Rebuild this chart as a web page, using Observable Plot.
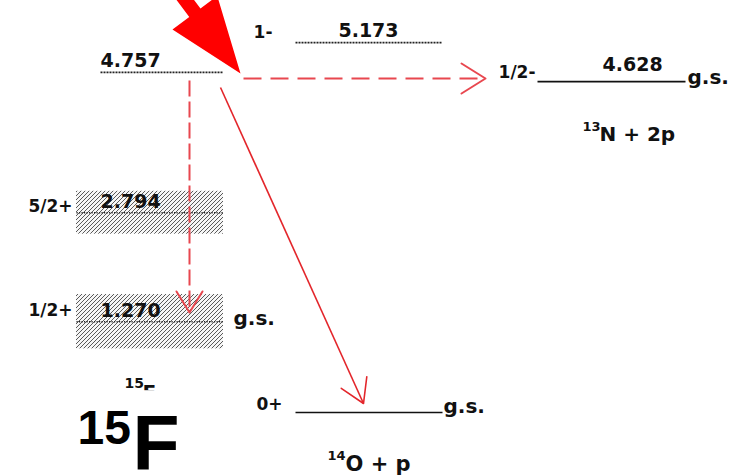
<!DOCTYPE html>
<html><head><meta charset="utf-8">
<script src="https://cdn.jsdelivr.net/npm/d3@7"></script>
<script src="https://cdn.jsdelivr.net/npm/@observablehq/plot@0.6"></script>
<style>html,body{margin:0;padding:0;background:#fff} #chart svg{display:block}</style>
</head><body><div id="chart"></div>
<script>
// ---------------- data ----------------
const levelEnergies   = [4.757, 5.173, 4.628, 2.794, 1.270, 0];      // MeV above 14O + p
const levelValueLabels = ["4.757", "5.173", "4.628", "2.794", "1.270", ""];
const levelSpins      = ["", "1-", "1/2-", "5/2+", "1/2+", "0+"];
const levelSystems    = ["15F", "14O + p", "13N + 2p", "15F", "15F", "14O + p"];
const levelKinds      = ["wavy", "wavy", "solid", "dotted", "dotted", "solid"];
const levelHalfWidths = [0, 0, 0, 0.30, 0.38, 0];                    // resonance half-widths (MeV)
const groundState     = [false, false, true, false, true, true];
const systemMass      = ["13", "14"];
const systemRest      = ["N + 2p", "O + p"];
const systemEnergy    = [4.628, 0];
const nucleusMass     = "15";
const nucleusSymbol   = "F";
const decayNames      = ["4.757 -> 13N + 2p", "4.757 -> 15F g.s.", "4.757 -> 14O + p"];

// ---------------- layout (pixels / pixel offsets) ----------------
const lineX1 = [100, 295, 537, 76, 76, 295];
const lineX2 = [223, 442, 685, 223, 223, 442];
const valueX = [100, 368, 602, 100, 100, null];
const valueAnchor = ["start", "middle", "start", "start", "start", "start"];
const valueDy = [-5, -6, -11, -5, -5, 0];
const spinX = [null, 272, 535, 72, 72, 282];
const spinDy = [0, -5, -4, -1, -6, -3];
const gsX = [null, null, 687, null, 233, 443];
const gsDy = [0, 0, 2, 0, 3, 0];
const sysMassX = [582, 327], sysRestX = [599, 345];
const sysMassDy = [49, 47], sysRestDy = [59, 58];
const sysRestSize = [20, 21];

const levels = levelEnergies.map((E, i) => ({
  i, E, value: levelValueLabels[i], spin: levelSpins[i], sys: levelSystems[i],
  kind: levelKinds[i], hw: levelHalfWidths[i], gs: groundState[i]
}));
const systems = systemEnergy.map((E, i) => ({i, E, mass: systemMass[i], rest: systemRest[i]}));

const decays = [
  {name: decayNames[0], x1: 243, y1: 4.671, x2: 485, y2: 4.671, dash: "18,9", color: "#e8474f", w: 2, rot: 90, l: 24, a: 15},
  {name: decayNames[1], x1: 189, y1: 4.643, x2: 189, y2: 1.399, dash: "16,5", color: "#e8474f", w: 2, rot: 180, l: 21, a: 13},
  {name: decayNames[2], x1: 220, y1: 4.545, x2: 363, y2: 0.126, dash: null, color: "#e3262b", w: 1.6, rot: 155.7, l: 23, a: 14}
];

const openHead = (a) => ({
  draw(ctx, l) { ctx.moveTo(-a, 0); ctx.lineTo(0, -l); ctx.lineTo(a, 0); }
});
const bigArrow = {
  draw(ctx, l) {
    const hl = 76, hw = 28, sw = 7;
    ctx.moveTo(-sw, 0); ctx.lineTo(-sw, -(l - hl)); ctx.lineTo(-hw, -(l - hl));
    ctx.lineTo(0, -l); ctx.lineTo(hw, -(l - hl)); ctx.lineTo(sw, -(l - hl));
    ctx.lineTo(sw, 0); ctx.closePath();
  }
};

const F = "DejaVu Sans";
const T = (data, o) => Plot.text(data, {fontFamily: F, fontWeight: "bold", fill: "#111", lineAnchor: "bottom", ...o});
const lv = (k) => levels.filter(d => d.kind === k);

const marks = [
  // hatched resonance widths
  Plot.rect(levels.filter(d => d.hw > 0), {x1: d => lineX1[d.i], x2: d => lineX2[d.i], y1: d => d.E - d.hw, y2: d => d.E + d.hw, fill: "url(#hatch)"}),
  // level lines
  Plot.link(lv("solid"), {x1: d => lineX1[d.i], x2: d => lineX2[d.i], y1: "E", y2: "E", stroke: "#111", strokeWidth: 1.6}),
  Plot.link(lv("dotted"), {x1: d => lineX1[d.i], x2: d => lineX2[d.i], y1: "E", y2: "E", stroke: "#222", strokeWidth: 1.6, strokeDasharray: "1.2,1.3"}),
  Plot.link(lv("wavy"), {x1: d => lineX1[d.i], x2: d => lineX2[d.i], y1: "E", y2: "E", stroke: "#222", strokeWidth: 1.8, strokeDasharray: "2,1"}),
  // energy labels
  ...levels.filter(d => d.value).map(d => T([d], {x: valueX[d.i], y: "E", text: "value", textAnchor: valueAnchor[d.i], dy: valueDy[d.i], fontSize: 19})),
  // spins
  ...levels.filter(d => d.spin).map(d => T([d], {x: spinX[d.i], y: "E", text: "spin", textAnchor: "end", dy: spinDy[d.i], fontSize: 17})),
  // g.s.
  ...levels.filter(d => d.gs).map(d => T([d], {x: gsX[d.i], y: "E", text: () => "g.s.", textAnchor: "start", dy: gsDy[d.i], fontSize: 20})),
  // system labels (superscript mass number + rest)
  ...systems.map(d => T([d], {x: sysMassX[d.i], y: "E", text: "mass", dy: sysMassDy[d.i], fontSize: 13, textAnchor: "start"})),
  ...systems.map(d => T([d], {x: sysRestX[d.i], y: "E", text: "rest", dy: sysRestDy[d.i], fontSize: sysRestSize[d.i], textAnchor: "start"})),
  // small clipped 15F
  T([0], {x: 124, y: 0, text: () => nucleusMass, dy: -25, fontSize: 14, textAnchor: "start"}),
  T([0], {x: 142, y: 0, text: () => nucleusSymbol, dy: -14, fontSize: 20, textAnchor: "start"}),
  Plot.rect([0], {x1: 138, x2: 165, y1: 0.14, y2: 0.305, fill: "white"}),
  // big 15F
  Plot.text([0], {x: 77, y: 0, text: () => nucleusMass, dy: 31, fontSize: 48, fontFamily: "Liberation Sans", fontWeight: "bold", fill: "#000", lineAnchor: "bottom", textAnchor: "start"}),
  Plot.text([0], {x: 132, y: 0, text: () => nucleusSymbol, dy: 57, fontSize: 77, fontFamily: "Liberation Sans", fontWeight: "bold", fill: "#000", lineAnchor: "bottom", textAnchor: "start"}),
  // decays
  ...decays.map(d => Plot.link([d], {x1: "x1", y1: "y1", x2: "x2", y2: "y2", stroke: d.color, strokeWidth: d.w, strokeDasharray: d.dash || undefined})),
  ...decays.map(d => Plot.vector([d], {x: "x2", y: "y2", anchor: "end", length: d.l, rotate: d.rot, shape: openHead(d.a), stroke: d.color, strokeWidth: d.w, fill: "none"})),
  // incoming beam arrow
  Plot.vector([{x: 240, E: 4.741}], {x: "x", y: "E", anchor: "end", length: 170, rotate: 143.1, shape: bigArrow, fill: "#ff0000", stroke: "none"})
];

const svg = Plot.plot({
  width: 750, height: 476, margin: 0,
  x: {domain: [0, 750], axis: null},
  y: {domain: [-0.895, 5.762], axis: null},
  style: {background: "white", overflow: "hidden"},
  marks
});
const defs = document.createElementNS("http://www.w3.org/2000/svg", "defs");
defs.innerHTML = '<pattern id="hatch" patternUnits="userSpaceOnUse" width="4" height="4">' +
  '<rect width="4" height="4" fill="#f6f6f6"/>' +
  '<path d="M-1,1 l2,-2 M0,4 l4,-4 M3,5 l2,-2" stroke="#5a5a5a" stroke-width="1"/></pattern>';
svg.insertBefore(defs, svg.firstChild);
document.getElementById("chart").appendChild(svg);
</script></body></html>
